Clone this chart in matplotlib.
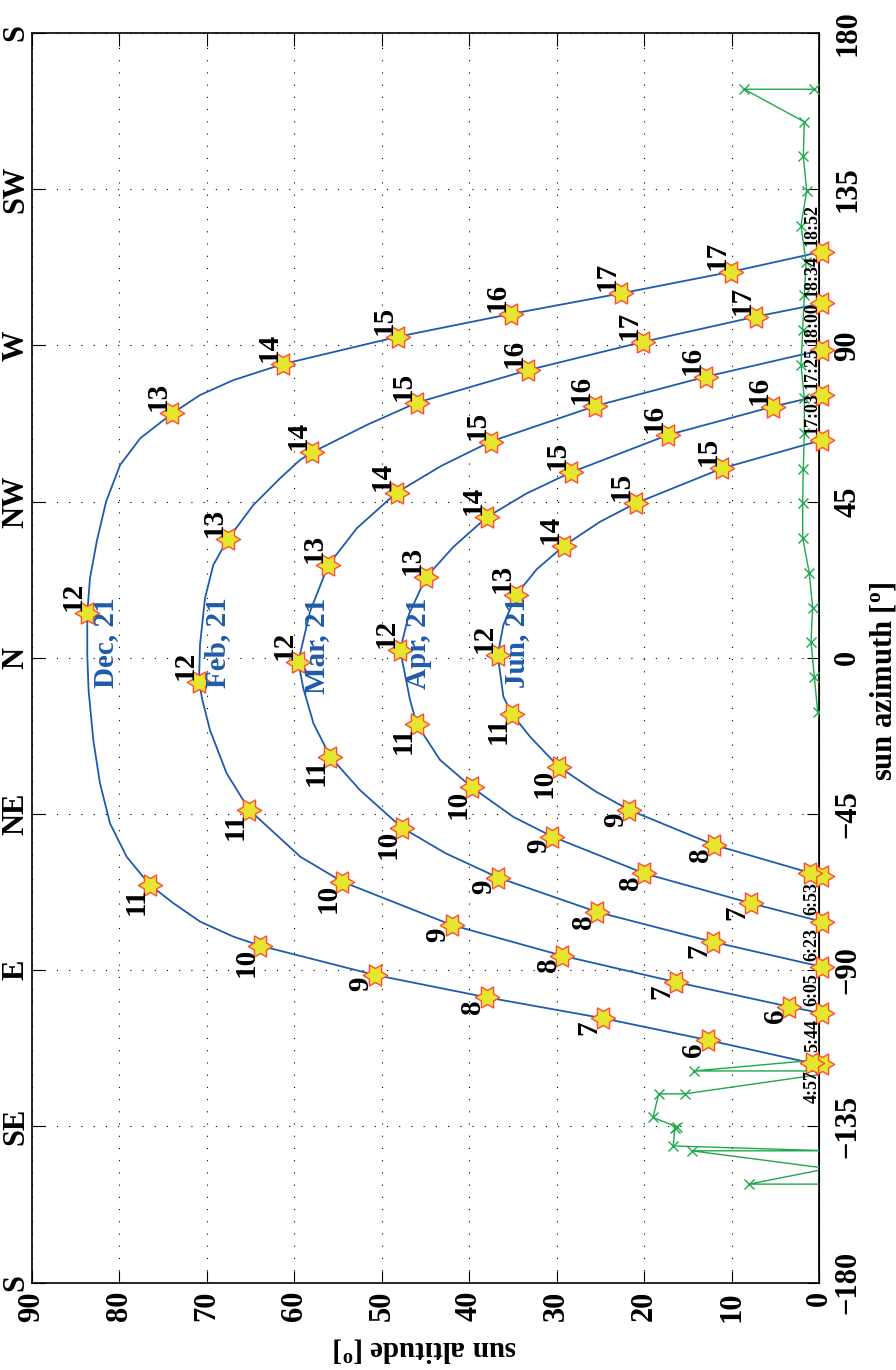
import numpy as np
import matplotlib
matplotlib.use('Agg')
import matplotlib.pyplot as plt
from matplotlib.path import Path


plt.rcParams['font.family'] = 'Liberation Serif'
plt.rcParams['font.weight'] = 'bold'
plt.rcParams['mathtext.fontset'] = 'custom'
plt.rcParams['mathtext.rm'] = 'Liberation Serif:bold'
plt.rcParams['mathtext.it'] = 'Liberation Serif:italic:bold'
plt.rcParams['mathtext.bf'] = 'Liberation Serif:bold'

# ---- data (azimuth in deg, altitude in deg) ----
dates = ['Dec, 21', 'Feb, 21', 'Mar, 21', 'Apr, 21', 'Jun, 21']

# sun paths
dec_az = [-117.1, -116.8, -110.1, -103.8, -97.8, -91.35, -82.9, -80.3, -76.0, -70.7,
          -65.4, -57.3, -47.7, -36.1, -23.7, -9.3, 0.8, 12.8, 22.9, 33.5, 45.0,
          55.55, 63.25, 70.45, 75.7, 80.0, 84.65, 92.5, 99.05, 105.0, 111.2, 117.0]
dec_alt = [-0.3, 0.8, 12.75, 24.75, 38.0, 50.77, 63.92, 66.96, 70.74, 73.8,
           76.5, 79.15, 81.05, 82.2, 82.96, 83.5, 83.65, 83.65, 83.34, 82.57, 81.5,
           79.9, 77.6, 73.93, 70.77, 66.96, 61.25, 48.18, 35.27, 22.65, 10.1, -0.3]
feb_az = [-102.4, -100.5, -93.4, -85.8, -76.96, -64.5, -57.3, -43.83, -33.3, -20.8,
          -12.1, -6.87, 3.7, 17.15, 26.75, 34.15, 44.0, 51.7, 57.0, 59.2, 67.1,
          73.5, 82.9, 91.0, 98.3, 102.1]
feb_alt = [-0.3, 3.43, 16.38, 29.37, 42.0, 54.5, 59.3, 65.13, 67.72, 69.63,
           70.5, 70.88, 70.77, 70.2, 69.25, 67.6, 64.68, 61.63, 59.34, 57.94, 51.7,
           46.0, 33.26, 20.18, 7.23, -0.3]
mar_az = [-89.0, -81.8, -73.2, -63.3, -56.3, -48.9, -38.1, -28.5, -18.9, -8.8,
          -1.1, 13.3, 26.75, 37.3, 47.6, 55.3, 62.3, 72.55, 81.0, 88.7]
mar_alt = [-0.3, 12.2, 25.4, 36.7, 42.7, 47.7, 52.49, 55.88, 57.8, 58.96,
           59.54, 58.2, 56.1, 52.86, 48.3, 43.2, 37.55, 25.6, 12.95, -0.3]
apr_az = [-76.0, -70.7, -62.1, -51.5, -45.8, -37.3, -29.4, -19.1, -12.1, 2.26,
          12.5, 23.2, 32.0, 40.5, 47.3, 53.4, 64.2, 72.35, 75.7]
apr_alt = [-0.3, 7.8, 20.0, 30.5, 34.97, 39.7, 43.34, 46.0, 46.77, 47.9,
           46.9, 44.94, 41.8, 38.0, 33.5, 28.4, 17.3, 5.33, -0.3]
jun_az = [-62.8, -61.9, -53.9, -43.83, -38.55, -31.35, -22.7, -16.3, -11.2, 0.82,
          9.5, 18.1, 25.5, 32.3, 39.2, 44.5, 54.6, 62.75]
jun_alt = [-0.3, 1.1, 12.0, 21.7, 25.52, 29.8, 33.06, 35.08, 36.1, 36.75,
           36.1, 34.66, 32.3, 29.17, 25.06, 21.0, 11.1, -0.3]

# hour markers
dec_star_az = [-117.1, -116.8, -110.1, -103.8, -97.8, -91.35, -82.9, -65.4, 12.8,
               70.45, 84.65, 92.5, 99.05, 105.0, 111.2, 117.0]
dec_star_alt = [-0.3, 0.8, 12.75, 24.75, 38.0, 50.77, 63.92, 76.5, 83.65,
                73.93, 61.25, 48.18, 35.27, 22.65, 10.1, -0.3]
dec_hours = ['', '', '6', '7', '8', '9', '10', '11', '12',
             '13', '14', '15', '16', '17', '17', '']
feb_star_az = [-102.4, -100.5, -93.4, -85.8, -76.96, -64.5, -43.83, -6.87, 34.15,
               59.2, 73.5, 82.9, 91.0, 98.3, 102.1]
feb_star_alt = [-0.3, 3.43, 16.38, 29.37, 42.0, 54.5, 65.13, 70.88, 67.6,
                57.94, 46.0, 33.26, 20.18, 7.23, -0.3]
feb_hours = ['', '6', '7', '8', '9', '10', '11', '12', '13',
             '14', '15', '16', '17', '17', '']
mar_star_az = [-89.0, -81.8, -73.2, -63.3, -48.9, -28.5, -1.1, 26.75, 47.6,
               62.3, 72.55, 81.0, 88.7]
mar_star_alt = [-0.3, 12.2, 25.4, 36.7, 47.7, 55.88, 59.54, 56.1, 48.3,
                37.55, 25.6, 12.95, -0.3]
mar_hours = ['', '7', '8', '9', '10', '11', '12', '13', '14',
             '15', '16', '16', '']
apr_star_az = [-76.0, -70.7, -62.1, -51.5, -37.3, -19.1, 2.26, 23.2, 40.5,
               53.4, 64.2, 72.35, 75.7]
apr_star_alt = [-0.3, 7.8, 20.0, 30.5, 39.7, 46.0, 47.9, 44.94, 38.0,
                28.4, 17.3, 5.33, -0.3]
apr_hours = ['', '7', '8', '9', '10', '11', '12', '13', '14',
             '15', '16', '16', '']
jun_star_az = [-62.8, -61.9, -53.9, -43.83, -31.35, -16.3, 0.82, 18.1, 32.3,
               44.5, 54.6, 62.75]
jun_star_alt = [-0.3, 1.1, 12.0, 21.7, 29.8, 35.08, 36.75, 34.66, 29.17,
                21.0, 11.1, -0.3]
jun_hours = ['', '', '8', '9', '10', '11', '12', '13', '14',
             '15', '15', '']

rise_az = [-117.1, -102.4, -89.0, -76.0, -62.8]
rise_time = ['4:57', '5:44', '6:05', '6:23', '6:53']
set_az = [117.0, 102.1, 88.7, 75.7, 62.75]
set_time = ['18:52', '18:34', '18:00', '17:25', '17:03']

# skyline / horizon
hz_az = [-151.6, -151.6, -147.1, -142.0, -142.0, -140.6, -135.5, -135.1, -132.4,
         -125.6, -125.6, -119.7, -119.0, -119.0, -115.5, -105.5, -95.5, -85.5,
         -75.5, -65.5, -55.5, -45.5, -35.5, -25.5, -15.5, -5.4, 4.66, 14.45,
         24.35, 34.6, 44.5, 54.4, 64.7, 74.8, 84.4, 94.4, 104.5, 114.1, 124.5,
         134.6, 144.6, 154.4, 163.8, 163.8]
hz_alt = [-1.0, 8.0, -1.0, 14.6, -1.0, 16.7, 16.5, 16.3, 19.0,
          18.35, 15.4, -1.0, -1.0, 14.3, -1.2, -1.2, -1.2, -1.2,
          -1.2, -1.2, -1.2, -1.2, -1.2, -1.2, 0.19, 0.57, 0.95, 0.76,
          1.14, 1.9, 1.9, 1.83, 1.71, 1.71, 2.09, 1.9, 1.71, 1.52, 2.09,
          1.44, 1.83, 1.71, 8.57, 0.57]

az_ticks = [-180, -135, -90, -45, 0, 45, 90, 135, 180]
az_labels = ['\u2212180', '\u2212135', '\u221290', '\u221245', '0', '45', '90', '135', '180']
compass = ['S', 'SE', 'E', 'NE', 'N', 'NW', 'W', 'SW', 'S']
alt_ticks = [0, 10, 20, 30, 40, 50, 60, 70, 80, 90]

curves_az = [dec_az, feb_az, mar_az, apr_az, jun_az]
curves_alt = [dec_alt, feb_alt, mar_alt, apr_alt, jun_alt]
stars_az = [dec_star_az, feb_star_az, mar_star_az, apr_star_az, jun_star_az]
stars_alt = [dec_star_alt, feb_star_alt, mar_star_alt, apr_star_alt, jun_star_alt]
hours = [dec_hours, feb_hours, mar_hours, apr_hours, jun_hours]

blue = '#1f5bab'

# six pointed star marker
k = np.arange(12)
ang = np.deg2rad(k * 30)
rad = np.where(k % 2 == 0, 1.0, 1 / np.sqrt(3))
verts = np.column_stack([rad * np.cos(ang), rad * np.sin(ang)])
verts = np.vstack([verts, verts[:1]])
hexagram = Path(verts, closed=True)

fig = plt.figure(figsize=(8.96, 13.7), dpi=100)
# picture is the usual plot turned a quarter turn: altitude runs right->left
ax = fig.add_axes([0.03538, 0.06372, 0.87902, 0.91219])
ax.set_xlim(90, 0)
ax.set_ylim(-180, 180)

ax.grid(True, color='k', ls=(0, (1, 10)), lw=0.8)
for sp in ax.spines.values():
    sp.set_linewidth(1.2)

ax.plot(hz_alt, hz_az, color='#1fa84f', lw=1.0, marker='x', ms=7, mew=1.0, zorder=3)

for c_az, c_alt in zip(curves_az, curves_alt):
    ax.plot(c_alt, c_az, color=blue, lw=1.3, zorder=2)

for s_az, s_alt, hh in zip(stars_az, stars_alt, hours):
    ax.plot(s_alt, s_az, ls='none', marker=hexagram, ms=17.5, mfc='#e6e62e',
            mec='#ff4b3a', mew=1.0, clip_on=False, zorder=5)
    for a, h, lab in zip(s_az, s_alt, hh):
        if lab == '':
            continue
        pm = int(lab) >= 12
        ax.annotate(lab, (h, a), xytext=(-14, 2 if pm else -2),
                    textcoords='offset pixels', rotation=90, ha='center',
                    va='bottom' if pm else 'top', fontsize=21, zorder=6,
                    annotation_clip=False)

for name, c_alt in zip(dates, curves_alt):
    ax.text(max(c_alt) - 2.1, 17.4, name, rotation=90, ha='center', va='top',
            color=blue, fontsize=21, zorder=6)

for a, t in zip(rise_az, rise_time):
    ax.annotate(t, (0, a), xytext=(-7, -6), textcoords='offset pixels',
                rotation=90, ha='center', va='top', fontsize=13, zorder=6,
                annotation_clip=False)
for a, t in zip(set_az, set_time):
    ax.annotate(t, (0, a), xytext=(-7, 6), textcoords='offset pixels',
                rotation=90, ha='center', va='bottom', fontsize=13, zorder=6,
                annotation_clip=False)

ax.set_xticks(alt_ticks)
ax.set_xticklabels([str(v) for v in alt_ticks])
ax.tick_params(axis='x', direction='in', length=9, width=0.8, top=True, bottom=True,
               labelsize=22, pad=6, labelrotation=90)
ax.set_yticks(az_ticks)
ax.set_yticklabels(compass)
ax.tick_params(axis='y', direction='in', length=9, width=0.8, left=True, right=False,
               labelsize=22, pad=1, labelrotation=90)
for t in ax.get_yticklabels():
    t.set_va('center')

sec = ax.secondary_yaxis('right')
sec.set_yticks(az_ticks, labels=az_labels)
sec.tick_params(direction='in', length=9, width=0.8, labelsize=22, pad=10,
                labelrotation=90)
for t in sec.get_yticklabels():
    t.set_va('center')

fig.text(0.474, 0.0153, r'sun altitude [$^\mathrm{o}$]', rotation=180,
         ha='center', va='center', fontsize=21)
fig.text(0.9855, 0.503, r'sun azimuth [$^\mathrm{o}$]', rotation=90,
         ha='center', va='center', fontsize=22)

fig.savefig('out.png', dpi=100)
